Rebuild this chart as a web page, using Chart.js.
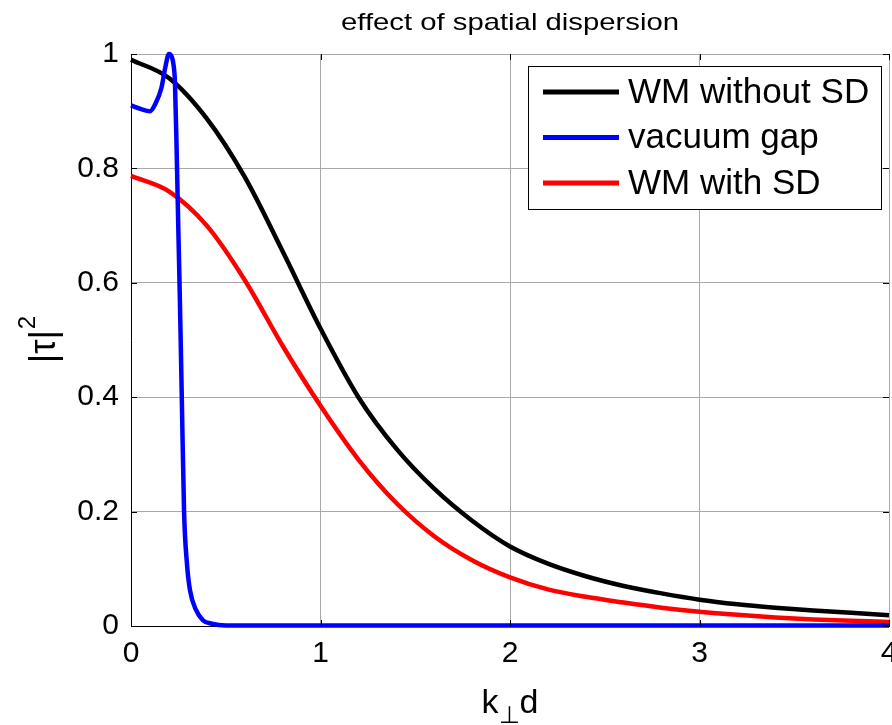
<!DOCTYPE html>
<html>
<head>
<meta charset="utf-8">
<title>effect of spatial dispersion</title>
<script src="https://cdn.jsdelivr.net/npm/chart.js@4.4.1/dist/chart.umd.min.js"></script>
<style>
  html, body { margin: 0; padding: 0; background: #fff; }
  #wrap { width: 892px; height: 725px; }
</style>
</head>
<body>
<div id="wrap"><canvas id="c" width="892" height="725"></canvas></div>
<script>
/* ===== |tau|^2 vs k_perp d — effect of spatial dispersion ===== */
const FONT = '"Liberation Sans", Arial, sans-serif';

// shared k⊥d grid for the two WM curves
const kd = [0, 0.2, 0.4, 0.6, 0.8, 1.0, 1.2, 1.4, 1.6, 1.8, 2.0, 2.2, 2.4, 2.6, 2.8, 3.0, 3.2, 3.4, 3.6, 3.8, 4.0];
const wmWithoutSD = [0.99, 0.958, 0.887, 0.785, 0.655, 0.52, 0.40, 0.31, 0.24, 0.184, 0.139, 0.109, 0.087, 0.070, 0.057, 0.046, 0.038, 0.032, 0.027, 0.023, 0.019];
const wmWithSD    = [0.787, 0.76, 0.70, 0.605, 0.49, 0.385, 0.291, 0.215, 0.157, 0.115, 0.085, 0.064, 0.051, 0.041, 0.032, 0.025, 0.0195, 0.015, 0.0115, 0.009, 0.007];

// vacuum gap is sampled denser around the sharp peak/drop
const kdGap     = [0, 0.05, 0.1, 0.13, 0.16, 0.18, 0.2, 0.215, 0.225, 0.232, 0.241, 0.25, 0.258, 0.268, 0.28, 0.295, 0.311, 0.343, 0.38, 0.427, 0.5, 1, 2, 3, 4];
const vacuumGap = [0.91, 0.904, 0.90, 0.914, 0.94, 0.975, 1.0, 0.995, 0.98, 0.95, 0.83, 0.69, 0.57, 0.4, 0.2, 0.11, 0.063, 0.028, 0.01, 0.004, 0.001, 0.001, 0.001, 0.001, 0.001];

const seriesLabels = ["WM without SD", "vacuum gap", "WM with SD"];
const xTicks = [0, 1, 2, 3, 4];
const yTicks = [0, 0.2, 0.4, 0.6, 0.8, 1];
const titleText = "effect of spatial dispersion";

const pts = (xs, ys) => xs.map((x, i) => ({ x, y: ys[i] }));

// title, axis labels, inside tick marks and the in-plot legend
const decor = {
  id: "decor",
  afterDraw(chart) {
    const { ctx, chartArea: a, scales: { x, y } } = chart;
    ctx.save();

    // small inward ticks like matlab
    ctx.strokeStyle = "#000"; ctx.lineWidth = 1;
    ctx.beginPath();
    xTicks.forEach((v) => {
      const px = Math.round(x.getPixelForValue(v)) + 0.5;
      ctx.moveTo(px, a.bottom); ctx.lineTo(px, a.bottom - 6);
      ctx.moveTo(px, a.top); ctx.lineTo(px, a.top + 6);
    });
    yTicks.forEach((v) => {
      const py = Math.round(y.getPixelForValue(v)) + 0.5;
      ctx.moveTo(a.left, py); ctx.lineTo(a.left + 6, py);
      ctx.moveTo(a.right, py); ctx.lineTo(a.right - 6, py);
    });
    ctx.stroke();

    ctx.fillStyle = "#000";
    ctx.textBaseline = "alphabetic";

    // title (the source figure's text is stretched sideways)
    ctx.save();
    ctx.font = `24px ${FONT}`;
    ctx.textAlign = "center";
    ctx.translate((a.left + a.right) / 2, 30);
    ctx.scale(1.22, 1);
    ctx.fillText(titleText, 0, 0);
    ctx.restore();

    // x label: k⊥d
    const cx = (a.left + a.right) / 2;
    ctx.textAlign = "left";
    ctx.font = `34px ${FONT}`;
    const wk = ctx.measureText("k").width, wd = ctx.measureText("d").width;
    ctx.font = `24px ${FONT}`;
    const ws = ctx.measureText("⊥").width;
    let sx = cx - (wk + ws + wd) / 2;
    ctx.font = `34px ${FONT}`; ctx.fillText("k", sx, 713); sx += wk;
    ctx.font = `24px ${FONT}`; ctx.fillText("⊥", sx, 723); sx += ws;
    ctx.font = `34px ${FONT}`; ctx.fillText("d", sx, 713);

    // y label: |τ|²
    ctx.save();
    ctx.translate(55, (a.top + a.bottom) / 2);
    ctx.rotate(-Math.PI / 2);
    ctx.font = `36px ${FONT}`;
    const wt = ctx.measureText("|τ|").width;
    ctx.font = `24px ${FONT}`;
    const w2 = ctx.measureText("2").width;
    let ty = -(wt + w2) / 2;
    ctx.font = `36px ${FONT}`; ctx.fillText("|τ|", ty, 0); ty += wt;
    ctx.font = `24px ${FONT}`; ctx.fillText("2", ty + 1, -20);
    ctx.restore();

    // legend box
    const L = { x: 528, y: 66, w: 353, h: 143 };
    ctx.fillStyle = "#fff"; ctx.fillRect(L.x, L.y, L.w, L.h);
    ctx.strokeStyle = "#000"; ctx.lineWidth = 1;
    ctx.strokeRect(L.x + 0.5, L.y + 0.5, L.w, L.h);
    ctx.font = `35px ${FONT}`;
    ctx.textBaseline = "middle";
    chart.data.datasets.forEach((ds, i) => {
      const ry = 92 + i * 45.5;
      ctx.strokeStyle = ds.borderColor; ctx.lineWidth = 5;
      ctx.beginPath(); ctx.moveTo(543, ry); ctx.lineTo(619, ry); ctx.stroke();
      ctx.fillStyle = "#000";
      ctx.fillText(ds.label, 628, ry + 1);
    });

    ctx.restore();
  },
};

const base = { borderWidth: 4.5, pointRadius: 0, fill: false, clip: 4 };

new Chart(document.getElementById("c"), {
  type: "line",
  data: {
    datasets: [
      { ...base, label: seriesLabels[0], data: pts(kd, wmWithoutSD), borderColor: "#000000", order: 1, cubicInterpolationMode: "monotone" },
      { ...base, label: seriesLabels[1], data: pts(kdGap, vacuumGap), borderColor: "#0000ff", order: 0, cubicInterpolationMode: "monotone" },
      { ...base, label: seriesLabels[2], data: pts(kd, wmWithSD), borderColor: "#ff0000", order: 2, cubicInterpolationMode: "monotone" },
    ],
  },
  options: {
    responsive: false, animation: false, devicePixelRatio: 1,
    layout: { padding: { top: 54, right: 3, left: 0, bottom: 0 } },
    plugins: { legend: { display: false }, title: { display: false }, tooltip: { enabled: false } },
    scales: {
      x: {
        type: "linear", min: 0, max: 4,
        afterFit: (s) => { s.height = 99; s.paddingLeft = 0; s.paddingRight = 0; },
        afterBuildTicks: (s) => { s.ticks = xTicks.map((v) => ({ value: v })); },
        ticks: { color: "#000", padding: 10, maxRotation: 0, font: { family: FONT, size: 30 }, callback: (v) => String(v) },
        grid: { color: "#a8a8a8", drawTicks: false },
        border: { color: "#000", width: 1 },
      },
      y: {
        min: 0, max: 1,
        afterFit: (s) => { s.width = 131; s.paddingTop = 0; s.paddingBottom = 0; },
        afterBuildTicks: (s) => { s.ticks = yTicks.map((v) => ({ value: v })); },
        ticks: { color: "#000", padding: 12, font: { family: FONT, size: 30 }, callback: (v) => String(Number(v.toFixed(1))) },
        grid: { color: "#a8a8a8", drawTicks: false },
        border: { color: "#000", width: 1 },
      },
    },
  },
  plugins: [decor],
});
</script>
</body>
</html>
